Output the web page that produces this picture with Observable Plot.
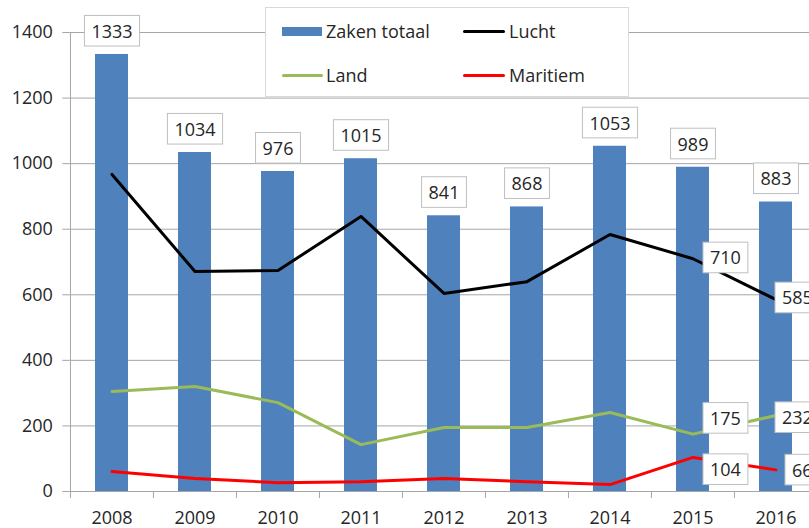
<!DOCTYPE html>
<html>
<head>
<meta charset="utf-8">
<script src="https://cdn.jsdelivr.net/npm/d3@7"></script>
<script src="https://cdn.jsdelivr.net/npm/@observablehq/plot@0.6"></script>
<style>
  html, body { margin: 0; padding: 0; background: #fff; overflow: hidden; width: 809px; height: 528px; }
  #wrap { position: relative; width: 809px; height: 528px; overflow: hidden; }
  #wrap svg { position: absolute; left: 0; top: 0; }
  .lg-box { position: absolute; left: 265px; top: 7px; width: 364px; height: 90px; box-sizing: border-box;
            border: 1px solid #d9d9d9; background: #fff; }
  .lg-sw { position: absolute; }
  .lg-tx { position: absolute; font-family: "Open Sans", sans-serif; font-size: 18px; line-height: 18px;
           color: #262626; white-space: nowrap; }
</style>
</head>
<body>
<div id="wrap"></div>
<script>
// ---------- data ----------
const years = ["2008", "2009", "2010", "2011", "2012", "2013", "2014", "2015", "2016"];
const zakenTotaal = [1333, 1034, 976, 1015, 841, 868, 1053, 989, 883];
const lucht = [967, 671, 674, 839, 604, 640, 784, 710, 585];
const land = [305, 320, 271, 143, 195, 195, 241, 175, 232];
const maritiem = [61, 40, 27, 30, 40, 30, 21, 104, 66];
const lineSeriesNames = ["Lucht", "Land", "Maritiem"];
const barSeriesName = "Zaken totaal";
const yTicks = [0, 200, 400, 600, 800, 1000, 1200, 1400];
const labeledYears = ["2015", "2016"];

// ---------- styling / layout ----------
const colors = { "Zaken totaal": "#4F81BD", "Lucht": "#000000", "Land": "#9BBB59", "Maritiem": "#FF0000" };
const W = 817, H = 528, ML = 69.3, MR = 0, MT = 32, MB = 37;
const step = (W - ML - MR) / years.length;
const gridColor = "#a6a6a6";
const textColor = "#262626";
const font = '"Open Sans", sans-serif';
// label nudges (text start offset from the point, vertical offset)
const labelNudge = {
  "Lucht 2015": [17, 0], "Lucht 2016": [6, -1],
  "Land 2015": [17, -15], "Land 2016": [6, 3],
  "Maritiem 2015": [17, 13], "Maritiem 2016": [16, 1]
};

const lineValues = { "Lucht": lucht, "Land": land, "Maritiem": maritiem };
const barData = years.map((y, i) => ({ year: y, value: zakenTotaal[i] }));
const lineData = Object.fromEntries(lineSeriesNames.map(s =>
  [s, years.map((y, i) => ({ year: y, value: lineValues[s][i] }))]));

const lineMarks = lineSeriesNames.map(s =>
  Plot.line(lineData[s], { x: "year", y: "value", stroke: colors[s], strokeWidth: 3,
                           strokeLinejoin: "round", strokeLinecap: "round" }));

const lineLabelMarks = lineSeriesNames.flatMap(s =>
  labeledYears.map(yr => {
    const [dx, dy] = labelNudge[s + " " + yr];
    return Plot.text(lineData[s].filter(d => d.year === yr), {
      x: "year", y: "value", text: d => String(d.value), dx, dy,
      textAnchor: "start", lineAnchor: "middle", fontSize: 18, fill: textColor,
      ariaDescription: "data-label"
    });
  }));

const chart = Plot.plot({
  width: W, height: H,
  marginLeft: ML, marginRight: MR, marginTop: MT, marginBottom: MB,
  style: { fontFamily: font, fontSize: "18px", color: textColor, background: "transparent", maxWidth: "none", overflow: "visible" },
  x: { type: "band", domain: years, paddingInner: 0.6, paddingOuter: 0.3, align: 0.5, label: null },
  y: { domain: [0, 1400], label: null },
  marks: [
    Plot.gridY(yTicks, { stroke: gridColor, strokeOpacity: 1, strokeWidth: 1 }),
    Plot.barY(barData, { x: "year", y: "value", fill: colors[barSeriesName] }),
    Plot.ruleX([years[0]], { x: d => d, dx: -step / 2, y1: 0, y2: 1400, stroke: gridColor, strokeWidth: 1 }),
    Plot.axisY({ ticks: yTicks, tickSize: 7, tickPadding: 10, fontSize: 18, stroke: gridColor, fill: textColor,
                 tickFormat: d => String(d), label: null }),
    Plot.axisX({ ticks: years, tickSize: 7, dx: -step / 2, tickFormat: () => "", stroke: gridColor, label: null }),
    Plot.axisX({ ticks: years, tickSize: 0, tickPadding: 20, fontSize: 18, fill: textColor, label: null }),
    ...lineMarks,
    Plot.text(barData, { x: "year", y: "value", text: d => String(d.value), dy: -22.5,
                         textAnchor: "middle", lineAnchor: "middle", fontSize: 18, fill: textColor,
                         ariaDescription: "data-label" }),
    ...lineLabelMarks
  ]
});

const wrap = document.getElementById("wrap");
wrap.appendChild(chart);

// boxes behind data labels, sized from the rendered text
const padX = 7, padY = 3.3;
let labelTexts = chart.querySelectorAll('g[aria-description="data-label"] text');
if (!labelTexts.length) labelTexts = chart.querySelectorAll('g[aria-label="text"] text');
labelTexts.forEach(t => {
  const b = t.getBBox();
  const r = document.createElementNS("http://www.w3.org/2000/svg", "rect");
  r.setAttribute("x", b.x - padX);
  r.setAttribute("y", b.y - padY);
  r.setAttribute("width", b.width + 2 * padX);
  r.setAttribute("height", b.height + 2 * padY);
  r.setAttribute("fill", "#fff");
  r.setAttribute("stroke", "#bfbfbf");
  r.setAttribute("stroke-width", 1);
  const tr = t.getAttribute("transform");
  if (tr) r.setAttribute("transform", tr);
  t.parentNode.insertBefore(r, t);
});

// legend overlay
const legendItems = [
  { name: "Zaken totaal", kind: "bar", sw: [282, 27, 40, 9], tx: [326, 22] },
  { name: "Lucht", kind: "line", sw: [463, 30, 42, 3], tx: [509, 22] },
  { name: "Land", kind: "line", sw: [282, 74, 41, 3], tx: [326, 65.5] },
  { name: "Maritiem", kind: "line", sw: [463, 74, 42, 3], tx: [509, 65.5] }
];
const box = document.createElement("div");
box.className = "lg-box";
wrap.appendChild(box);
legendItems.forEach(it => {
  const sw = document.createElement("div");
  sw.className = "lg-sw";
  sw.style.left = it.sw[0] + "px"; sw.style.top = it.sw[1] + "px";
  sw.style.width = it.sw[2] + "px"; sw.style.height = it.sw[3] + "px";
  sw.style.background = colors[it.name];
  if (it.kind === "line") sw.style.borderRadius = "1.5px";
  wrap.appendChild(sw);
  const tx = document.createElement("div");
  tx.className = "lg-tx";
  tx.style.left = it.tx[0] + "px"; tx.style.top = it.tx[1] + "px";
  tx.textContent = it.name;
  wrap.appendChild(tx);
});
</script>
</body>
</html>
